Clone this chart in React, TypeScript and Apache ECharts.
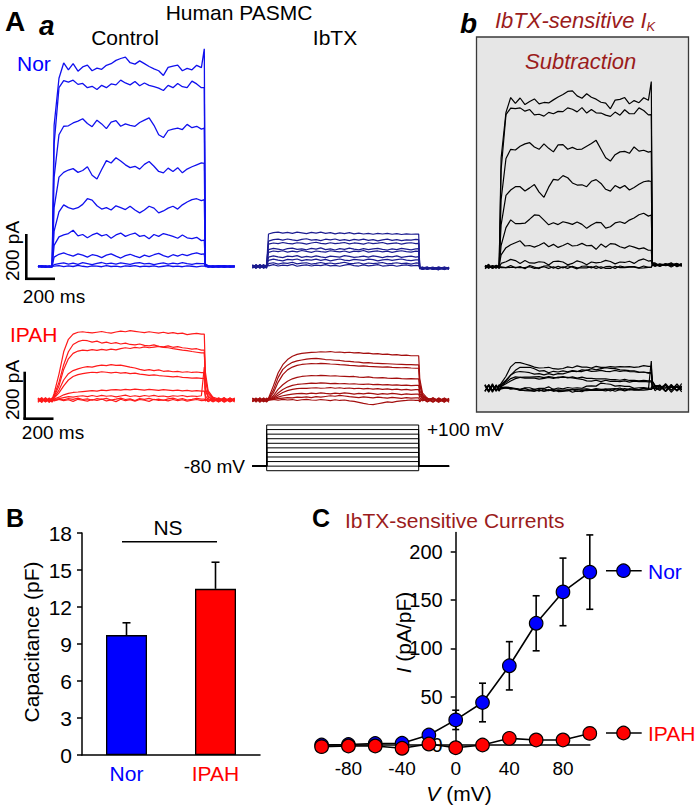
import React, { useEffect, useRef } from "react";
import * as echarts from "echarts";

const FONT = "'Liberation Sans', Arial, Helvetica, sans-serif";

// ---------- time base of the current traces (ms) ----------
const preTimes = [-94, -70, -45, -20, -1];
const pulseTimes = [12, 44, 75, 106, 137, 169, 200, 231, 262, 294, 325, 356, 387, 419, 450, 481, 512, 544, 575, 606, 637, 669, 700, 731, 762, 794, 825, 856, 887, 919, 950, 981];
const postTimes = [1000, 1007, 1025, 1056, 1094, 1131, 1169, 1200];
const traceTimes = [...preTimes, ...pulseTimes, ...postTimes];
const pulseStart = 0;
const pulseEnd = 1000;
const holdingPotential = -80;

// ---------- currents (pA), Nor control ----------
const norControl = [
  [2, -3, 1, -2, 0, 600, 800, 865, 836, 862, 830, 848, 856, 832, 843, 838, 855, 862, 876, 884, 890, 866, 860, 874, 862, 850, 840, 832, 812, 846, 852, 856, 832, 842, 836, 855, 845, 925, 10, 4, -2, 3, -3, 2, 0],
  [-2, 3, -1, 2, -3, 520, 760, 790, 784, 792, 774, 778, 760, 766, 752, 770, 760, 776, 772, 792, 780, 772, 786, 768, 780, 770, 764, 758, 748, 770, 760, 778, 764, 760, 788, 776, 760, 760, 8, 2, -3, 1, 4, -2, 1],
  [1, -2, 3, 0, -1, 380, 560, 596, 598, 610, 618, 628, 608, 594, 622, 606, 586, 614, 620, 596, 606, 600, 596, 612, 622, 632, 600, 560, 548, 578, 584, 588, 582, 604, 590, 596, 584, 588, 6, -2, 3, -1, 2, -3, 0],
  [-1, 2, -3, 1, 2, 250, 380, 400, 410, 416, 400, 408, 424, 388, 372, 412, 450, 440, 462, 448, 432, 420, 426, 414, 434, 446, 426, 404, 398, 418, 404, 420, 398, 414, 424, 432, 440, 438, 5, 1, -2, 3, -1, 2, -2],
  [3, -1, 0, -2, 1, 150, 232, 262, 250, 244, 250, 264, 288, 282, 258, 244, 250, 240, 258, 250, 242, 256, 240, 228, 240, 256, 248, 228, 236, 248, 256, 244, 262, 274, 284, 288, 280, 284, 4, -1, 2, -3, 1, 0, 2],
  [0, 2, -2, 1, -1, 90, 126, 134, 140, 154, 130, 136, 122, 134, 142, 130, 136, 120, 134, 142, 128, 136, 142, 128, 132, 118, 136, 128, 140, 134, 128, 120, 134, 122, 118, 124, 110, 112, 3, 0, -2, 2, -1, 1, -3],
  [-2, 1, 2, -1, 0, 40, 52, 58, 50, 44, 54, 48, 40, 50, 46, 38, 48, 54, 44, 36, 46, 52, 44, 38, 48, 42, 50, 56, 46, 40, 50, 44, 52, 46, 54, 58, 52, 54, 2, -1, 1, -2, 3, -1, 0],
  [1, -1, -3, 2, 0, 8, 12, 15, 10, 14, 9, 16, 12, 8, 13, 17, 11, 14, 10, 15, 12, 9, 14, 16, 11, 13, 8, 12, 15, 10, 14, 11, 16, 12, 9, 13, 12, 12, 1, 2, -1, 0, -2, 1, 2],
  [0, 3, -1, -2, 1, 2, 4, -1, 3, 0, 5, 1, -2, 3, 2, -1, 4, 0, 2, -2, 3, 1, 4, -1, 2, 0, 3, -2, 1, 4, 0, 2, -1, 3, 1, -2, 2, 2, 0, -1, 2, 1, -2, 0, 1],
];

// ---------- Nor with IbTX ----------
const norIbtx = [
  [6, -8, 4, -5, 2, 138, 144, 146, 142, 145, 141, 146, 143, 140, 145, 142, 146, 141, 144, 139, 143, 140, 144, 139, 142, 138, 141, 137, 141, 138, 141, 137, 140, 136, 139, 137, 138, 138, -6, -12, -4, -9, -2, -10, -5],
  [-5, 7, -3, 8, -6, 108, 114, 116, 112, 117, 113, 110, 115, 118, 112, 114, 110, 116, 113, 117, 111, 114, 110, 115, 112, 116, 111, 114, 109, 113, 116, 111, 114, 110, 113, 112, 115, 114, -8, -3, -11, -5, -13, -2, -7],
  [4, -6, 8, -2, 5, 95, 100, 97, 102, 98, 96, 101, 99, 95, 100, 103, 98, 96, 101, 97, 99, 102, 96, 100, 98, 95, 101, 97, 99, 102, 96, 98, 100, 95, 99, 101, 97, 98, -4, -10, -6, -12, -3, -8, -11],
  [-7, 3, -4, 6, -2, 72, 77, 74, 70, 76, 78, 73, 75, 71, 77, 74, 79, 72, 75, 70, 76, 73, 78, 74, 71, 76, 72, 75, 77, 73, 70, 75, 72, 77, 74, 71, 75, 76, -10, -5, -13, -4, -9, -12, -3],
  [5, -3, 7, -8, 3, 60, 66, 63, 67, 61, 65, 62, 68, 64, 60, 66, 63, 61, 67, 64, 62, 66, 60, 65, 63, 68, 61, 64, 66, 62, 65, 60, 64, 67, 63, 61, 65, 64, -3, -9, -2, -11, -6, -4, -10],
  [-4, 8, -6, 2, -7, 40, 45, 41, 38, 44, 42, 46, 39, 43, 40, 45, 41, 38, 44, 42, 40, 46, 43, 39, 41, 44, 40, 45, 42, 38, 43, 41, 45, 39, 42, 44, 40, 42, -7, -13, -5, -8, -14, -3, -9],
  [7, -2, 5, -6, 4, 26, 31, 27, 24, 30, 28, 32, 25, 29, 27, 31, 26, 30, 24, 28, 32, 27, 25, 30, 28, 26, 31, 29, 24, 28, 30, 26, 29, 32, 27, 25, 28, 28, -5, -2, -10, -7, -4, -13, -6],
  [-3, 6, -8, 5, -4, 12, 16, 10, 15, 13, 18, 11, 14, 16, 10, 13, 17, 12, 15, 11, 14, 18, 12, 13, 16, 10, 15, 12, 14, 17, 11, 13, 16, 12, 14, 10, 15, 14, -9, -6, -3, -12, -7, -5, -11],
  [2, -7, 6, -3, 8, 3, 8, 2, 6, 4, 9, 1, 5, 7, 2, 6, 4, 8, 3, 5, 1, 6, 9, 4, 2, 7, 3, 5, 8, 2, 4, 6, 1, 5, 7, 3, 5, 4, -6, -11, -8, -3, -10, -7, -4],
];

// ---------- IPAH control ----------
const ipahControl = [
  [8, -10, 5, -6, 3, 28, 110, 205, 258, 280, 288, 290, 287, 285, 288, 291, 287, 284, 289, 293, 290, 295, 292, 289, 286, 290, 287, 284, 288, 283, 286, 282, 284, 278, 281, 283, 280, 280, 120, 40, 12, 4, -6, 8, -3],
  [-7, 9, -4, 6, -9, 20, 75, 150, 205, 236, 248, 254, 252, 246, 250, 242, 246, 240, 244, 238, 242, 236, 234, 238, 232, 230, 234, 228, 226, 230, 224, 227, 222, 220, 216, 218, 212, 212, 95, 32, 9, -5, 7, -8, 3],
  [5, -8, 10, -3, 6, 15, 60, 130, 175, 198, 208, 212, 210, 214, 211, 215, 212, 216, 213, 218, 222, 219, 224, 221, 226, 222, 225, 228, 224, 222, 218, 215, 212, 210, 206, 203, 200, 200, 88, 28, 6, -7, 5, -4, 9],
  [-10, 4, -6, 9, -2, 10, 42, 85, 112, 125, 132, 138, 142, 140, 145, 148, 146, 150, 147, 148, 144, 140, 136, 130, 126, 129, 125, 128, 122, 124, 120, 122, 118, 120, 117, 119, 116, 116, 50, 18, -4, 6, -9, 3, -5],
  [6, -5, 8, -9, 4, 8, 30, 60, 85, 100, 108, 112, 115, 118, 116, 120, 118, 115, 118, 114, 116, 112, 114, 110, 108, 105, 107, 104, 102, 100, 98, 100, 96, 95, 93, 94, 92, 92, 40, 12, 5, -8, 4, -3, 7],
  [-4, 10, -7, 3, -8, 4, 12, 22, 28, 32, 34, 36, 38, 40, 38, 42, 40, 43, 44, 42, 45, 43, 46, 44, 42, 45, 43, 41, 44, 42, 40, 42, 39, 41, 38, 40, 38, 38, 18, 4, -6, 9, -2, 6, -9],
  [9, -3, 6, -10, 5, 2, 6, 10, 14, 12, 16, 18, 14, 19, 15, 20, 16, 18, 13, 17, 21, 15, 18, 14, 19, 16, 20, 15, 17, 13, 18, 16, 19, 14, 17, 15, 18, 140, 8, -5, 7, -3, 10, -6, 2],
  [-6, 7, -9, 4, -3, -2, 4, 1, 6, 3, 8, 2, 5, -1, 6, 3, 7, 0, 4, 8, 2, 5, -2, 6, 3, 7, 1, 4, -1, 5, 8, 2, 6, 0, 3, 7, 4, 4, -4, 6, -8, 3, -5, 8, -2],
  [4, -9, 7, -5, 9, -4, 2, -3, 1, -6, 3, -1, -5, 2, -2, 4, -4, 0, -7, 3, -3, 1, -5, 2, -1, -6, 3, -2, 0, -4, 2, -3, 1, -5, -1, 2, -3, -2, 5, -7, 3, -4, 8, -6, 1],
];

// ---------- IPAH with IbTX ----------
const ipahIbtx = [
  [-6, 8, -4, 5, -2, 8, 60, 115, 150, 172, 186, 194, 198, 200, 202, 203, 205, 204, 206, 203, 204, 201, 203, 200, 201, 198, 199, 196, 197, 194, 195, 192, 193, 190, 191, 188, 188, 188, 90, 30, 8, -6, 4, -9, 5],
  [7, -5, 9, -8, 3, 5, 42, 95, 130, 148, 160, 166, 170, 174, 176, 177, 175, 172, 171, 169, 168, 165, 164, 162, 161, 158, 159, 157, 156, 155, 154, 153, 152, 151, 150, 150, 149, 149, 70, 22, 4, 7, -8, 2, -5],
  [-8, 4, -3, 9, -6, 4, 30, 75, 108, 128, 140, 147, 151, 153, 155, 154, 156, 155, 153, 152, 150, 149, 147, 146, 144, 145, 143, 142, 141, 140, 141, 139, 138, 137, 138, 136, 135, 135, 62, 20, -5, 8, -3, 6, -10],
  [5, -9, 6, -2, 8, 3, 18, 45, 65, 80, 90, 96, 100, 102, 104, 103, 105, 104, 102, 103, 101, 100, 99, 100, 97, 96, 98, 95, 94, 95, 93, 92, 93, 91, 90, 91, 90, 90, 42, 12, 6, -7, 9, -4, 3],
  [-3, 7, -10, 4, -5, 2, 12, 30, 45, 55, 62, 66, 68, 70, 72, 71, 73, 72, 70, 71, 69, 70, 68, 69, 67, 66, 68, 65, 66, 64, 65, 63, 64, 62, 63, 61, 62, 62, 28, 9, -8, 5, -6, 8, -2],
  [9, -4, 3, -7, 6, 1, 8, 20, 32, 40, 45, 48, 50, 49, 51, 52, 50, 51, 53, 50, 52, 49, 51, 48, 50, 47, 49, 46, 48, 45, 47, 44, 46, 43, 45, 42, 44, 44, 20, 5, 3, -9, 6, -3, 7],
  [-5, 8, -6, 2, -9, 0, 5, 12, 18, 22, 25, 27, 28, 26, 29, 27, 30, 28, 26, 29, 27, 30, 28, 25, 28, 26, 29, 27, 24, 27, 25, 28, 26, 23, 26, 24, 25, 25, 10, -4, 8, -5, 3, -8, 4],
  [6, -2, 9, -5, 4, 0, 3, 6, 8, 10, 9, 12, 11, 13, 10, 14, 12, 15, 18, 16, 20, 17, 14, 12, 10, 13, 11, 9, 12, 10, 8, 11, 9, 7, 10, 8, 9, 9, -3, 6, -7, 4, -9, 5, -4],
  [-7, 5, -4, 8, -3, 0, 2, -1, 3, 0, 2, -2, 1, 3, 0, -1, 2, 0, -3, 1, -2, 0, -4, -6, -10, -14, -18, -20, -16, -12, -8, -10, -6, -4, -2, 0, -2, -2, -8, 5, -6, 9, -3, 7, -5],
];

// IbTX-sensitive current = control minus IbTX (same cell, same step)
const norSubtraction = norControl.map((tr, i) => tr.map((v, j) => v - norIbtx[i][j]));
const ipahSubtraction = ipahControl.map((tr, i) => tr.map((v, j) => v - ipahIbtx[i][j]));

// ---------- panel B ----------
const groups = ["Nor", "IPAH"];
const capacitance = [9.72, 13.47];
const capacitanceSem = [1.0, 2.16];

// ---------- panel C ----------
const ivVoltages = [-100, -80, -60, -40, -20, 0, 20, 40, 60, 80, 100];
const norCurrent = [0, 0.5, 1.5, 1.8, 10.3, 26, 44, 82, 126, 158.5, 179];
const norSem = [0, 0, 0, 0.5, 2, 10, 20, 25, 28.5, 35, 38.5];
const ipahCurrent = [-1.7, -1, -1, -3.4, 1, -2.8, 0, 6.9, 5.2, 5.2, 12];
const ipahSem = [0, 0, 0, 0, 0, 0, 0, 5, 3, 3, 6];
const ivYTicks = [0, 50, 100, 150, 200];
const ivXTicks = [-80, -40, 0, 40, 80];

// ---------- colours ----------
const BLUE = "#0000ff";
const TRACE_BLUE = "#1010ee";
const DARK_BLUE = "#1c1c90";
const RED = "#ff0000";
const TRACE_RED = "#ff1a1a";
const DARK_RED = "#a30e0e";
const TITLE_RED = "#9b1c1c";

// ---------- layout ----------
const T_MIN = -94;
const T_MAX = 1200;
const PX_PER_MS = 0.152;
const PA_PER_PX = 4.25;
const TRACE_W = (T_MAX - T_MIN) * PX_PER_MS;
const IV_LEFT = 321.6;
const IV_WIDTH = 268.2;

function traceGrid(left: number, top: number, height: number, baseY: number) {
  return {
    grid: { left, top, width: TRACE_W, height },
    min: -(top + height - baseY) * PA_PER_PX,
    max: (baseY - top) * PA_PER_PX,
  };
}

function buildOption() {
  const tg = [
    traceGrid(38, 40, 250, 266.5),
    traceGrid(252.4, 40, 250, 266.5),
    traceGrid(485, 40, 250, 266.7),
    traceGrid(38, 305, 120, 400),
    traceGrid(252.4, 305, 120, 400),
    traceGrid(485, 330, 80, 388),
  ];
  const grids: any[] = tg.map((g) => g.grid);
  const xAxes: any[] = tg.map((_, i) => ({ type: "value", gridIndex: i, min: T_MIN, max: T_MAX, show: false }));
  const yAxes: any[] = tg.map((g, i) => ({ type: "value", gridIndex: i, min: g.min, max: g.max, show: false }));

  // protocol grid (6)
  grids.push({ left: 252.4, top: 420, width: TRACE_W, height: 55 });
  xAxes.push({ type: "value", gridIndex: 6, min: T_MIN, max: T_MAX, show: false });
  yAxes.push({ type: "value", gridIndex: 6, min: -118.8, max: 121.9, show: false });

  // bar chart grid (7)
  grids.push({ left: 82, top: 533, width: 178, height: 222 });
  xAxes.push({
    type: "category",
    gridIndex: 7,
    data: groups,
    axisLine: { lineStyle: { color: "#000", width: 1.5 } },
    axisTick: { show: false },
    axisLabel: {
      fontSize: 21,
      fontFamily: FONT,
      margin: 8,
      color: (v: string) => (v === "Nor" ? BLUE : RED),
    },
  });
  yAxes.push({
    type: "value",
    gridIndex: 7,
    min: 0,
    max: 18,
    interval: 3,
    axisLine: { show: true, lineStyle: { color: "#000", width: 1.5 } },
    axisTick: { show: true, length: 5, lineStyle: { color: "#000", width: 1.5 } },
    axisLabel: { fontSize: 21, fontFamily: FONT, color: "#000", margin: 10 },
    splitLine: { show: false },
  });

  // IV grid (8)
  const xMin = -100;
  const xMax = 100;
  grids.push({ left: IV_LEFT, top: 532.5, width: IV_WIDTH, height: 212.5 });
  xAxes.push({
    type: "value",
    gridIndex: 8,
    min: xMin,
    max: xMax,
    axisLine: { onZero: false, lineStyle: { color: "#000", width: 1.5 } },
    axisTick: { show: false },
    axisLabel: { customValues: ivXTicks, fontSize: 19, fontFamily: FONT, color: "#000", margin: 14 },
    splitLine: { show: false },
  });
  yAxes.push({
    type: "value",
    gridIndex: 8,
    min: 0,
    max: 220,
    interval: 50,
    // y axis drawn at V = 0
    offset: -((0 - xMin) / (xMax - xMin)) * IV_WIDTH,
    axisLine: { show: true, onZero: false, lineStyle: { color: "#000", width: 1.5 } },
    axisTick: { show: true, customValues: ivYTicks, length: 5, lineStyle: { color: "#000", width: 1.5 } },
    axisLabel: {
      customValues: ivYTicks,
      fontSize: 20,
      fontFamily: FONT,
      color: "#000",
      margin: 13,
      formatter: (v: number) => (v % 50 === 0 ? String(v) : ""),
    },
    splitLine: { show: false },
  });

  const series: any[] = [];
  const addTraces = (traces: number[][], idx: number, color: string, width = 1.2) => {
    traces.forEach((tr) => {
      series.push({
        type: "line",
        xAxisIndex: idx,
        yAxisIndex: idx,
        data: tr.map((v, j) => [traceTimes[j], v]),
        showSymbol: false,
        symbol: "none",
        lineStyle: { color, width },
        silent: true,
        emphasis: { disabled: true },
        z: 2,
      });
    });
  };
  addTraces(norControl, 0, TRACE_BLUE, 1.3);
  addTraces(norIbtx, 1, DARK_BLUE, 1.2);
  addTraces(norSubtraction, 2, "#000", 1.2);
  addTraces(ipahControl, 3, TRACE_RED, 1.2);
  addTraces(ipahIbtx, 4, DARK_RED, 1.2);
  addTraces(ipahSubtraction, 5, "#000", 1.2);

  // voltage protocol
  ivVoltages.forEach((v) => {
    series.push({
      type: "line",
      xAxisIndex: 6,
      yAxisIndex: 6,
      data: [
        [T_MIN, holdingPotential],
        [pulseStart, holdingPotential],
        [pulseStart, v],
        [pulseEnd, v],
        [pulseEnd, holdingPotential],
        [T_MAX, holdingPotential],
      ],
      showSymbol: false,
      symbol: "none",
      lineStyle: { color: "#000", width: 1 },
      silent: true,
      z: 2,
    });
  });

  // bars
  series.push({
    type: "bar",
    xAxisIndex: 7,
    yAxisIndex: 7,
    barWidth: 41,
    data: capacitance.map((v, i) => ({ value: v, itemStyle: { color: i === 0 ? BLUE : RED } })),
    itemStyle: { borderColor: "#000", borderWidth: 1.3 },
    silent: true,
    z: 2,
  });
  series.push({
    type: "custom",
    xAxisIndex: 7,
    yAxisIndex: 7,
    data: capacitance.map((v, i) => [i, v, capacitanceSem[i]]),
    encode: { x: 0, y: 1 },
    silent: true,
    z: 3,
    renderItem: (_p: any, api: any) => {
      const i = api.value(0);
      const m = api.value(1);
      const e = api.value(2);
      const a = api.coord([i, m]);
      const b = api.coord([i, m + e]);
      const st = { stroke: "#000", lineWidth: 1.6 };
      return {
        type: "group",
        children: [
          { type: "line", shape: { x1: a[0], y1: a[1], x2: b[0], y2: b[1] }, style: st },
          { type: "line", shape: { x1: b[0] - 4, y1: b[1], x2: b[0] + 4, y2: b[1] }, style: st },
        ],
      };
    },
  });

  const ivErr = (vals: number[], sems: number[], z: number) => ({
    type: "custom",
    xAxisIndex: 8,
    yAxisIndex: 8,
    data: ivVoltages.map((v, i) => [v, vals[i], sems[i]]),
    encode: { x: 0, y: 1 },
    silent: true,
    clip: false,
    z,
    renderItem: (_p: any, api: any) => {
      const x = api.value(0);
      const y = api.value(1);
      const e = api.value(2);
      if (!e) return { type: "group", children: [] };
      const t = api.coord([x, y + e]);
      const b = api.coord([x, y - e]);
      const st = { stroke: "#000", lineWidth: 1.6 };
      return {
        type: "group",
        children: [
          { type: "line", shape: { x1: t[0], y1: t[1], x2: b[0], y2: b[1] }, style: st },
          { type: "line", shape: { x1: t[0] - 3.5, y1: t[1], x2: t[0] + 3.5, y2: t[1] }, style: st },
          { type: "line", shape: { x1: b[0] - 3.5, y1: b[1], x2: b[0] + 3.5, y2: b[1] }, style: st },
        ],
      };
    },
  });
  const ivLine = (vals: number[], color: string, z: number) => ({
    type: "line",
    xAxisIndex: 8,
    yAxisIndex: 8,
    data: ivVoltages.map((v, i) => [v, vals[i]]),
    symbol: "circle",
    symbolSize: 13.5,
    showSymbol: true,
    clip: false,
    silent: true,
    itemStyle: { color, borderColor: "#000", borderWidth: 1.2 },
    lineStyle: { color: "#000", width: 1.6 },
    z,
  });
  series.push(ivErr(norCurrent, norSem, 3));
  series.push(ivLine(norCurrent, BLUE, 4));
  series.push(ivErr(ipahCurrent, ipahSem, 5));
  series.push(ivLine(ipahCurrent, RED, 6));

  const txt = (x: number, y: number, text: string, o: any = {}) => ({
    type: "text",
    x,
    y,
    rotation: o.rotation || 0,
    z: 10,
    style: {
      text,
      fill: o.fill || "#000",
      fontSize: o.size || 21,
      fontFamily: FONT,
      fontWeight: o.weight || "normal",
      fontStyle: o.style || "normal",
      textAlign: o.align || "left",
      textVerticalAlign: "middle",
      rich: o.rich,
    },
  });
  const ln = (x1: number, y1: number, x2: number, y2: number, w = 1.5) => ({
    type: "line",
    z: 10,
    shape: { x1, y1, x2, y2 },
    style: { stroke: "#000", lineWidth: w },
  });

  const graphic: any[] = [
    {
      type: "rect",
      z: -1,
      shape: { x: 476.5, y: 37, width: 212, height: 375 },
      style: { fill: "#e6e6e6", stroke: "#3a3a3a", lineWidth: 1.3 },
    },
    txt(5, 21, "A", { size: 28, weight: "bold" }),
    txt(39, 25, "a", { size: 28, weight: "bold", style: "italic" }),
    txt(239, 12.5, "Human PASMC", { align: "center" }),
    txt(125, 37.5, "Control", { align: "center" }),
    txt(335, 37.5, "IbTX", { align: "center" }),
    txt(17, 63.5, "Nor", { fill: BLUE }),
    txt(10, 334, "IPAH", { fill: RED }),
    txt(460, 23.5, "b", { size: 28, weight: "bold", style: "italic" }),
    txt(495, 20, "{m|IbTX-sensitive I}{s|K}", {
      rich: {
        m: { fontSize: 22, fontStyle: "italic", fill: TITLE_RED, fontFamily: FONT, lineHeight: 26 },
        s: { fontSize: 13, fontStyle: "italic", fill: TITLE_RED, fontFamily: FONT, lineHeight: 13, verticalAlign: "bottom" },
      },
    }),
    txt(525, 61.7, "Subtraction", { size: 22, style: "italic", fill: TITLE_RED }),
    // scale bars
    ln(26.3, 234, 26.3, 279.5, 2.6),
    ln(25, 278.8, 55, 278.8, 2.6),
    txt(12.5, 251, "200 pA", { size: 19, align: "center", rotation: Math.PI / 2 }),
    txt(54, 296, "200 ms", { size: 19, align: "center" }),
    ln(24.7, 371.7, 24.7, 419.5, 2.6),
    ln(23.4, 418.7, 53.5, 418.7, 2.6),
    txt(12, 390, "200 pA", { size: 19, align: "center", rotation: Math.PI / 2 }),
    txt(53, 432, "200 ms", { size: 19, align: "center" }),
    txt(427, 429, "+100 mV", { size: 19 }),
    txt(245, 466, "-80 mV", { size: 19, align: "right" }),
    // panel B
    txt(6, 518, "B", { size: 25, weight: "bold" }),
    txt(168, 527, "NS", { align: "center" }),
    ln(122, 541.7, 217, 541.7, 1.5),
    txt(31.7, 642, "Capacitance (pF)", { align: "center", rotation: Math.PI / 2 }),
    // panel C
    txt(312, 517.5, "C", { size: 25, weight: "bold" }),
    txt(345, 520, "IbTX-sensitive Currents", { fill: TITLE_RED }),
    txt(403, 632.5, "{i|I} (pA/pF)", {
      align: "center",
      rotation: Math.PI / 2,
      rich: { i: { fontSize: 21, fontStyle: "italic", fontFamily: FONT, fill: "#000" } },
    }),
    txt(459, 793, "{i|V} (mV)", {
      align: "center",
      rich: { i: { fontSize: 21, fontStyle: "italic", fontFamily: FONT, fill: "#000" } },
    }),
    // legend
    ln(606, 570.7, 641.7, 570.7, 1.6),
    { type: "circle", z: 11, shape: { cx: 623.5, cy: 570.7, r: 6.7 }, style: { fill: BLUE, stroke: "#000", lineWidth: 1.2 } },
    txt(648, 571, "Nor", { fill: BLUE }),
    ln(606, 733, 641.7, 733, 1.6),
    { type: "circle", z: 11, shape: { cx: 623.5, cy: 733, r: 6.7 }, style: { fill: RED, stroke: "#000", lineWidth: 1.2 } },
    txt(648, 733, "IPAH", { fill: RED }),
  ];

  return {
    animation: false,
    backgroundColor: "#ffffff",
    textStyle: { fontFamily: FONT },
    grid: grids,
    xAxis: xAxes,
    yAxis: yAxes,
    series,
    graphic,
  };
}

export default function App() {
  const ref = useRef<HTMLDivElement>(null);
  useEffect(() => {
    document.body.style.margin = "0";
    const chart = echarts.init(ref.current!, null, { renderer: "svg" });
    chart.setOption(buildOption() as any);
    return () => chart.dispose();
  }, []);
  return <div ref={ref} style={{ width: 698, height: 809 }} />;
}
